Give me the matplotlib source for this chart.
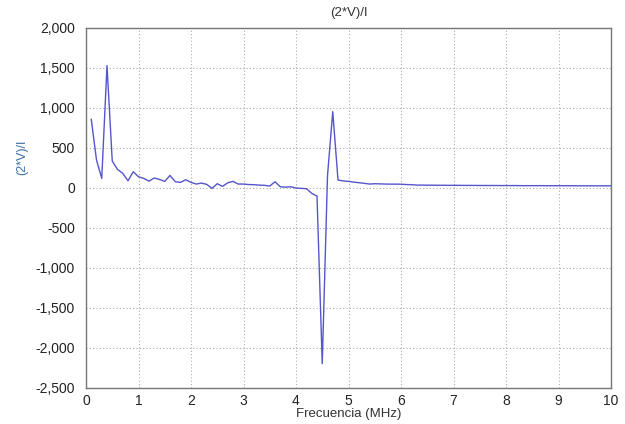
import numpy as np
import matplotlib.pyplot as plt
from matplotlib.ticker import FuncFormatter

plt.rcParams['font.family'] = ['Liberation Sans', 'DejaVu Sans']

# frequency axis (MHz), one point every 0.1 MHz
freq = np.round(np.arange(1, 101) * 0.1, 2)

vals = [854, 346, 117, 1525, 333, 229, 179, 87, 200, 137,
        117, 83, 121, 104, 79, 154, 75, 67, 100, 67,
        46, 58, 42, -8, 50, 17, 62, 79, 46, 46,
        40, 38, 33, 30, 21, 75, 12, 8, 12, -4,
        -8, -12, -70, -104, -2196, 150, 950, 96, 85, 79,
        70, 63, 55, 46, 50, 48, 46, 45, 45, 44,
        40, 38, 33, 33, 32, 32, 31, 31, 30, 30,
        30, 29, 29, 29, 28, 28, 28, 28, 27, 27,
        27, 27, 26, 26, 26, 26, 26, 25, 25, 25,
        25, 25, 25, 24, 24, 24, 24, 24, 24, 24]

fig = plt.figure(figsize=(6.25, 4.24), dpi=100)
ax = fig.add_axes([0.1376, 0.085, 0.84, 0.85])

ax.plot(freq, vals, color='#5555cc', lw=1.0)

ax.set_xlim(0, 10)
ax.set_ylim(-2500, 2000)
ax.set_xticks(range(0, 11))
ax.set_yticks(range(-2500, 2001, 500))
ax.yaxis.set_major_formatter(FuncFormatter(lambda v, p: '{:,.0f}'.format(v)))

ax.grid(True, linestyle=(0, (1, 2)), color='#aaaaaa', lw=0.8)
ax.tick_params(length=0, labelsize=10, colors='#222222')
ax.tick_params(axis='y', pad=8)
ax.tick_params(axis='x', pad=4)
for s in ax.spines.values():
    s.set_color('#777777')
    s.set_linewidth(1.0)

ax.set_title('(2*V)/I', fontsize=9.5, color='#333333', pad=8)
ax.set_xlabel('Frecuencia (MHz)', fontsize=9.5, color='#333333', labelpad=0)
ax.set_ylabel('(2*V)/I', fontsize=9, color='#3a6ea5')
ax.yaxis.set_label_coords(-0.11, 0.64)

fig.savefig('out.png', dpi=100)
